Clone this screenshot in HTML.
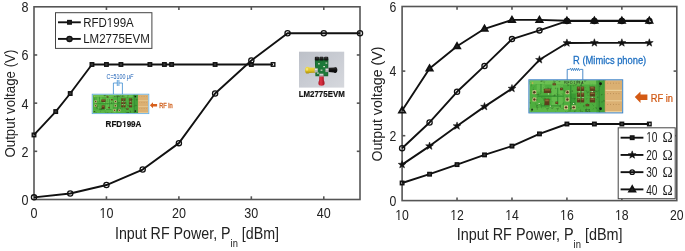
<!DOCTYPE html>
<html><head><meta charset="utf-8"><style>
html,body{margin:0;padding:0;background:#fff;width:685px;height:251px;overflow:hidden}
svg{display:block;will-change:transform}
text{font-family:"Liberation Sans",sans-serif;fill:#1a1a1a}
.ax rect,.ax line{stroke:#555;stroke-width:1.6}
.tk{font-size:15.5px;fill:#222}
.tk2{font-size:14.6px;fill:#222}
.xl{font-size:15.4px;fill:#222}
.xl2{font-size:16.2px;fill:#222}
.sub{font-size:10.6px}
.yl{font-size:15.3px;fill:#222}
.yl2{font-size:15.5px;fill:#222}
.ln{fill:none;stroke:#111;stroke-width:1.9;stroke-linejoin:round}
.msq{fill:none;stroke:#111;stroke-width:1.4}
.mci{fill:none;stroke:#111;stroke-width:1.3}
.mtr{fill:none;stroke:#111;stroke-width:1.8}
.mst{fill:#111;stroke:#111;stroke-width:0.5}
.lg{fill:#fff;stroke:#444;stroke-width:1}
.lgt{font-size:13.1px;fill:#1a1a1a}
.lgt2{font-size:13.9px;fill:#1a1a1a}
.cap{font-size:7.2px;fill:#1b5fb6}
.rfs{font-size:7.1px;fill:#d0601c;stroke:#d0601c;stroke-width:0.3}
.bl{font-size:9.5px;font-weight:bold;fill:#111;stroke:#111;stroke-width:0.2}
.bl2{font-size:9.4px;font-weight:bold;fill:#111;stroke:#111;stroke-width:0.2}
.rlab{font-size:11px;fill:#1f70c2;stroke:#1f70c2;stroke-width:0.3}
.rfr{font-size:11px;fill:#d05812;stroke:#d05812;stroke-width:0.25}
.om{font-family:"Liberation Serif",serif;font-size:13.8px;fill:#1a1a1a}
</style></head><body>
<svg width="685" height="251" viewBox="0 0 685 251">
<defs><clipPath id="f1"><path clip-rule="evenodd" d="M79.46,178 H133.43 V238 H79.46 Z M99.42,216.72 h3.15 v3.28 h-3.15 Z M103.78,216.72 h3.1 v3.28 h-3.1 Z"/></clipPath><clipPath id="f2"><path clip-rule="evenodd" d="M63.2,-13.3 H153.53 V46.7 H63.2 Z M106.63,25.6 h2.96 v3.1 h-2.96 Z M110.7,25.6 h2.92 v3.1 h-2.92 Z"/></clipPath><clipPath id="f3"><path clip-rule="evenodd" d="M375.28,180 H428.92 V240 H375.28 Z M395.21,218.79 h3.1 v3.21 h-3.1 Z M399.5,218.79 h3.05 v3.21 h-3.05 Z"/></clipPath><clipPath id="f4"><path clip-rule="evenodd" d="M430.22,180 H483.86 V240 H430.22 Z M450.15,218.79 h3.1 v3.21 h-3.1 Z M454.44,218.79 h3.05 v3.21 h-3.05 Z"/></clipPath><clipPath id="f5"><path clip-rule="evenodd" d="M485.16,180 H538.8 V240 H485.16 Z M505.09,218.79 h3.1 v3.21 h-3.1 Z M509.38,218.79 h3.05 v3.21 h-3.05 Z"/></clipPath><clipPath id="f6"><path clip-rule="evenodd" d="M540.1,180 H593.74 V240 H540.1 Z M560.03,218.79 h3.1 v3.21 h-3.1 Z M564.32,218.79 h3.05 v3.21 h-3.05 Z"/></clipPath><clipPath id="f7"><path clip-rule="evenodd" d="M595.04,180 H648.68 V240 H595.04 Z M614.97,218.79 h3.1 v3.21 h-3.1 Z M619.26,218.79 h3.05 v3.21 h-3.05 Z"/></clipPath><clipPath id="f8"><path clip-rule="evenodd" d="M626.2,102.2 H677.49 V162.2 H626.2 Z M645.97,141.04 h2.73 v3.16 h-2.73 Z M649.7,141.04 h2.7 v3.16 h-2.7 Z"/></clipPath><clipPath id="f9"><path clip-rule="evenodd" d="M85.6,86.6 H161.5 V146.6 H85.6 Z M121.7,125.51 h2.33 v3.09 h-2.33 Z M125.24,125.51 h2.27 v3.09 h-2.27 Z"/></clipPath></defs>
<g class="ax">
<rect x="34" y="6.8" width="326" height="192.7" fill="none"/>
<line x1="106.44" y1="199.5" x2="106.44" y2="196.3"/>
<line x1="106.44" y1="6.8" x2="106.44" y2="10"/>
<line x1="178.89" y1="199.5" x2="178.89" y2="196.3"/>
<line x1="178.89" y1="6.8" x2="178.89" y2="10"/>
<line x1="251.33" y1="199.5" x2="251.33" y2="196.3"/>
<line x1="251.33" y1="6.8" x2="251.33" y2="10"/>
<line x1="323.78" y1="199.5" x2="323.78" y2="196.3"/>
<line x1="323.78" y1="6.8" x2="323.78" y2="10"/>
<line x1="34" y1="151.32" x2="37.2" y2="151.32"/>
<line x1="360" y1="151.32" x2="356.8" y2="151.32"/>
<line x1="34" y1="103.15" x2="37.2" y2="103.15"/>
<line x1="360" y1="103.15" x2="356.8" y2="103.15"/>
<line x1="34" y1="54.98" x2="37.2" y2="54.98"/>
<line x1="360" y1="54.98" x2="356.8" y2="54.98"/>
</g>
<text class="tk" transform="translate(28.5,205) scale(0.81,1)" text-anchor="end">0</text>
<text class="tk" transform="translate(28.5,156.82) scale(0.81,1)" text-anchor="end">2</text>
<text class="tk" transform="translate(28.5,108.65) scale(0.81,1)" text-anchor="end">4</text>
<text class="tk" transform="translate(28.5,60.48) scale(0.81,1)" text-anchor="end">6</text>
<text class="tk" transform="translate(28.5,12.3) scale(0.81,1)" text-anchor="end">8</text>
<text class="tk" transform="translate(34,218) scale(0.81,1)" text-anchor="middle">0</text>
<g clip-path="url(#f1)"><text class="tk" transform="translate(106.44,218) scale(0.81,1)" text-anchor="middle">10</text></g>
<text class="tk" transform="translate(178.89,218) scale(0.81,1)" text-anchor="middle">20</text>
<text class="tk" transform="translate(251.33,218) scale(0.81,1)" text-anchor="middle">30</text>
<text class="tk" transform="translate(323.78,218) scale(0.81,1)" text-anchor="middle">40</text>
<text class="xl2" transform="translate(197,238.7) scale(0.88,1)" text-anchor="middle">Input RF Power, P<tspan class="sub" dy="8">in</tspan><tspan dy="-8"> [dBm]</tspan></text>
<text class="yl" transform="translate(14.8,103.6) rotate(-90) scale(0.87,1)" text-anchor="middle">Output voltage (V)</text>
<polyline class="ln" points="34,134.95 55.73,111.58 70.22,93.52 91.96,64.49 106.44,64.49 120.93,64.49 149.91,64.49 164.4,64.49 171.64,64.49 215.11,64.49 251.33,64.49 273.07,64.49"/>
<polyline class="ln" points="34,197.33 70.22,193.48 106.44,185.05 142.67,169.51 178.89,143.14 215.11,93.52 251.33,60.52 287.56,33.3 323.78,33.3 360,33.3"/>
<rect x="32.25" y="133.2" width="3.5" height="3.5" class="msq"/>
<rect x="53.98" y="109.83" width="3.5" height="3.5" class="msq" style="fill:#3a3a3a"/>
<rect x="68.47" y="91.77" width="3.5" height="3.5" class="msq" style="fill:#3a3a3a"/>
<rect x="90.21" y="62.74" width="3.5" height="3.5" class="msq" style="fill:#3a3a3a"/>
<rect x="104.69" y="62.74" width="3.5" height="3.5" class="msq" style="fill:#3a3a3a"/>
<rect x="119.18" y="62.74" width="3.5" height="3.5" class="msq" style="fill:#3a3a3a"/>
<rect x="148.16" y="62.74" width="3.5" height="3.5" class="msq" style="fill:#3a3a3a"/>
<rect x="162.65" y="62.74" width="3.5" height="3.5" class="msq" style="fill:#3a3a3a"/>
<rect x="169.89" y="62.74" width="3.5" height="3.5" class="msq" style="fill:#3a3a3a"/>
<rect x="213.36" y="62.74" width="3.5" height="3.5" class="msq" style="fill:#3a3a3a"/>
<rect x="249.58" y="62.74" width="3.5" height="3.5" class="msq" style="fill:#3a3a3a"/>
<rect x="271.32" y="62.74" width="3.5" height="3.5" class="msq"/>
<circle cx="34" cy="197.33" r="2.6" class="mci"/>
<circle cx="70.22" cy="193.48" r="2.6" class="mci"/>
<circle cx="106.44" cy="185.05" r="2.6" class="mci"/>
<circle cx="142.67" cy="169.51" r="2.6" class="mci"/>
<circle cx="178.89" cy="143.14" r="2.6" class="mci"/>
<circle cx="215.11" cy="93.52" r="2.6" class="mci"/>
<circle cx="251.33" cy="60.52" r="2.6" class="mci"/>
<circle cx="287.56" cy="33.3" r="2.6" class="mci"/>
<circle cx="323.78" cy="33.3" r="2.6" class="mci"/>
<circle cx="360" cy="33.3" r="2.6" class="mci"/>
<rect class="lg" x="55.5" y="12.7" width="96.4" height="35.7"/>
<line class="ln" x1="58" y1="22.3" x2="80.8" y2="22.3"/>
<rect x="67.75" y="20.55" width="3.5" height="3.5" class="msq" style="fill:#222"/>
<line class="ln" x1="58" y1="38.9" x2="80.8" y2="38.9"/>
<circle cx="69.5" cy="38.9" r="2.6" class="mci" style="fill:#333"/>
<g clip-path="url(#f2)"><text class="lgt" transform="translate(83.2,26.7) scale(0.88,1)">RFD199A</text></g>
<text class="lgt" transform="translate(83.2,43.2) scale(0.88,1)">LM2775EVM</text>
<g class="ax">
<rect x="402.1" y="6.5" width="274.7" height="194.1" fill="none"/>
<line x1="457.04" y1="200.6" x2="457.04" y2="197.4"/>
<line x1="457.04" y1="6.5" x2="457.04" y2="9.7"/>
<line x1="511.98" y1="200.6" x2="511.98" y2="197.4"/>
<line x1="511.98" y1="6.5" x2="511.98" y2="9.7"/>
<line x1="566.92" y1="200.6" x2="566.92" y2="197.4"/>
<line x1="566.92" y1="6.5" x2="566.92" y2="9.7"/>
<line x1="621.86" y1="200.6" x2="621.86" y2="197.4"/>
<line x1="621.86" y1="6.5" x2="621.86" y2="9.7"/>
<line x1="402.1" y1="135.7" x2="405.3" y2="135.7"/>
<line x1="676.8" y1="135.7" x2="673.6" y2="135.7"/>
<line x1="402.1" y1="71.1" x2="405.3" y2="71.1"/>
<line x1="676.8" y1="71.1" x2="673.6" y2="71.1"/>
</g>
<text class="tk2" transform="translate(396.4,205.6) scale(0.84,1)" text-anchor="end">0</text>
<text class="tk2" transform="translate(396.4,141) scale(0.84,1)" text-anchor="end">2</text>
<text class="tk2" transform="translate(396.4,76.4) scale(0.84,1)" text-anchor="end">4</text>
<text class="tk2" transform="translate(396.4,11.8) scale(0.84,1)" text-anchor="end">6</text>
<g clip-path="url(#f3)"><text class="tk2" transform="translate(402.1,220) scale(0.84,1)" text-anchor="middle">10</text></g>
<g clip-path="url(#f4)"><text class="tk2" transform="translate(457.04,220) scale(0.84,1)" text-anchor="middle">12</text></g>
<g clip-path="url(#f5)"><text class="tk2" transform="translate(511.98,220) scale(0.84,1)" text-anchor="middle">14</text></g>
<g clip-path="url(#f6)"><text class="tk2" transform="translate(566.92,220) scale(0.84,1)" text-anchor="middle">16</text></g>
<g clip-path="url(#f7)"><text class="tk2" transform="translate(621.86,220) scale(0.84,1)" text-anchor="middle">18</text></g>
<text class="tk2" transform="translate(676.8,220) scale(0.84,1)" text-anchor="middle">20</text>
<text class="xl2" transform="translate(539.6,240.1) scale(0.89,1)" text-anchor="middle">Input RF Power, P<tspan class="sub" dy="8">in</tspan><tspan dy="-8"> [dBm]</tspan></text>
<text class="yl2" transform="translate(382.2,104.1) rotate(-90) scale(0.915,1)" text-anchor="middle">Output voltage (V)</text>
<polyline class="ln" points="402.1,182.99 429.57,174.2 457.04,164.61 484.51,154.89 511.98,146.1 539.45,133.89 566.92,124.01 594.39,124.01 621.86,124.01 649.33,124.01"/>
<polyline class="ln" points="402.1,164.61 429.57,146.1 457.04,126.01 484.51,106.63 511.98,88.54 539.45,59.8 566.92,43 594.39,42.84 621.86,42.84 649.33,42.84"/>
<polyline class="ln" points="402.1,148.3 429.57,122.46 457.04,91.77 484.51,65.93 511.98,39.12 539.45,30.4 566.92,21.04 594.39,21.04 621.86,21.04 649.33,21.04"/>
<polyline class="ln" points="402.1,110.51 429.57,68.52 457.04,46.23 484.51,28.79 511.98,19.9 539.45,19.9 566.92,20.71 594.39,20.71 621.86,20.71 649.33,20.71"/>
<rect x="400.35" y="181.24" width="3.5" height="3.5" class="msq"/>
<rect x="427.82" y="172.45" width="3.5" height="3.5" class="msq" style="fill:#3a3a3a"/>
<rect x="455.29" y="162.86" width="3.5" height="3.5" class="msq" style="fill:#3a3a3a"/>
<rect x="482.76" y="153.14" width="3.5" height="3.5" class="msq" style="fill:#3a3a3a"/>
<rect x="510.23" y="144.35" width="3.5" height="3.5" class="msq" style="fill:#3a3a3a"/>
<rect x="537.7" y="132.14" width="3.5" height="3.5" class="msq" style="fill:#3a3a3a"/>
<rect x="565.17" y="122.26" width="3.5" height="3.5" class="msq" style="fill:#3a3a3a"/>
<rect x="592.64" y="122.26" width="3.5" height="3.5" class="msq" style="fill:#3a3a3a"/>
<rect x="620.11" y="122.26" width="3.5" height="3.5" class="msq" style="fill:#3a3a3a"/>
<rect x="647.58" y="122.26" width="3.5" height="3.5" class="msq"/>
<polygon points="402.1,160.51 403.1,163.23 406,163.34 403.72,165.13 404.51,167.93 402.1,166.31 399.69,167.93 400.48,165.13 398.2,163.34 401.1,163.23" class="mst"/>
<polygon points="429.57,142 430.57,144.73 433.47,144.83 431.19,146.63 431.98,149.42 429.57,147.8 427.16,149.42 427.95,146.63 425.67,144.83 428.57,144.73" class="mst"/>
<polygon points="457.04,121.91 458.04,124.63 460.94,124.74 458.66,126.54 459.45,129.33 457.04,127.71 454.63,129.33 455.42,126.54 453.14,124.74 456.04,124.63" class="mst"/>
<polygon points="484.51,102.53 485.51,105.25 488.41,105.36 486.13,107.16 486.92,109.95 484.51,108.33 482.1,109.95 482.89,107.16 480.61,105.36 483.51,105.25" class="mst"/>
<polygon points="511.98,84.44 512.98,87.17 515.88,87.28 513.6,89.07 514.39,91.86 511.98,90.24 509.57,91.86 510.36,89.07 508.08,87.28 510.98,87.17" class="mst"/>
<polygon points="539.45,55.7 540.45,58.42 543.35,58.53 541.07,60.32 541.86,63.11 539.45,61.5 537.04,63.11 537.83,60.32 535.55,58.53 538.45,58.42" class="mst"/>
<polygon points="566.92,38.9 567.92,41.62 570.82,41.73 568.54,43.52 569.33,46.32 566.92,44.7 564.51,46.32 565.3,43.52 563.02,41.73 565.92,41.62" class="mst"/>
<polygon points="594.39,38.74 595.39,41.46 598.29,41.57 596.01,43.36 596.8,46.15 594.39,44.54 591.98,46.15 592.77,43.36 590.49,41.57 593.39,41.46" class="mst"/>
<polygon points="621.86,38.74 622.86,41.46 625.76,41.57 623.48,43.36 624.27,46.15 621.86,44.54 619.45,46.15 620.24,43.36 617.96,41.57 620.86,41.46" class="mst"/>
<polygon points="649.33,38.74 650.33,41.46 653.23,41.57 650.95,43.36 651.74,46.15 649.33,44.54 646.92,46.15 647.71,43.36 645.43,41.57 648.33,41.46" class="mst"/>
<circle cx="402.1" cy="148.3" r="2.6" class="mci"/>
<circle cx="429.57" cy="122.46" r="2.6" class="mci"/>
<circle cx="457.04" cy="91.77" r="2.6" class="mci"/>
<circle cx="484.51" cy="65.93" r="2.6" class="mci"/>
<circle cx="511.98" cy="39.12" r="2.6" class="mci"/>
<circle cx="539.45" cy="30.4" r="2.6" class="mci"/>
<circle cx="566.92" cy="21.04" r="2.6" class="mci"/>
<circle cx="594.39" cy="21.04" r="2.6" class="mci"/>
<circle cx="621.86" cy="21.04" r="2.6" class="mci"/>
<circle cx="649.33" cy="21.04" r="2.6" class="mci"/>
<polygon points="402.1,107.28 399,112.65 405.2,112.65" class="mtr"/>
<polygon points="429.57,65.29 426.47,70.66 432.67,70.66" class="mtr" style="fill:#222"/>
<polygon points="457.04,43.01 453.94,48.38 460.14,48.38" class="mtr" style="fill:#222"/>
<polygon points="484.51,25.57 481.41,30.93 487.61,30.93" class="mtr" style="fill:#222"/>
<polygon points="511.98,16.68 508.88,22.05 515.08,22.05" class="mtr" style="fill:#222"/>
<polygon points="539.45,16.68 536.35,22.05 542.55,22.05" class="mtr" style="fill:#222"/>
<polygon points="566.92,17.49 563.82,22.86 570.02,22.86" class="mtr" style="fill:#222"/>
<polygon points="594.39,17.49 591.29,22.86 597.49,22.86" class="mtr" style="fill:#222"/>
<polygon points="621.86,17.49 618.76,22.86 624.96,22.86" class="mtr" style="fill:#222"/>
<polygon points="649.33,17.49 646.23,22.86 652.43,22.86" class="mtr"/>
<circle cx="566.92" cy="20.87" r="2.9" fill="#111"/>
<circle cx="594.39" cy="20.87" r="2.9" fill="#111"/>
<circle cx="621.86" cy="20.87" r="2.9" fill="#111"/>
<rect class="lg" x="618.2" y="127.8" width="57" height="70.9"/>
<line class="ln" x1="620.6" y1="137.7" x2="643.4" y2="137.7"/>
<rect x="630.45" y="135.95" width="3.5" height="3.5" class="msq" style="fill:#222"/>
<g clip-path="url(#f8)"><text class="lgt2" transform="translate(646.2,142.2) scale(0.73,1)">10</text></g>
<text class="om" transform="translate(662.4,142.2) scale(1,1)">&#937;</text>
<line class="ln" x1="620.6" y1="154.93" x2="643.4" y2="154.93"/>
<polygon points="632.2,150.83 633.2,153.55 636.1,153.66 633.82,155.46 634.61,158.25 632.2,156.63 629.79,158.25 630.58,155.46 628.3,153.66 631.2,153.55" class="mst"/>
<text class="lgt2" transform="translate(646.2,159.7) scale(0.73,1)">20</text>
<text class="om" transform="translate(662.4,159.7) scale(1,1)">&#937;</text>
<line class="ln" x1="620.6" y1="172.16" x2="643.4" y2="172.16"/>
<circle cx="632.2" cy="172.16" r="2.2" class="mci"/>
<text class="lgt2" transform="translate(646.2,177.2) scale(0.73,1)">30</text>
<text class="om" transform="translate(662.4,177.2) scale(1,1)">&#937;</text>
<line class="ln" x1="620.6" y1="189.39" x2="643.4" y2="189.39"/>
<polygon points="632.2,186.17 629.1,191.54 635.3,191.54" class="mtr" style="fill:#222"/>
<text class="lgt2" transform="translate(646.2,194.7) scale(0.73,1)">40</text>
<text class="om" transform="translate(662.4,194.7) scale(1,1)">&#937;</text>
<defs><symbol id="pcb" viewBox="0 0 100 34" preserveAspectRatio="none">
<rect x="0" y="0" width="82" height="34" fill="#4eae3e"/>
<rect x="0" y="0" width="82" height="4.5" fill="#6cc052"/>
<rect x="0" y="29" width="42" height="5" fill="#5cb848"/>
<rect x="24" y="5" width="12" height="24" fill="#62bc4c"/>
<rect x="8" y="5" width="9" height="7" fill="#62bc4c"/>
<rect x="44" y="14" width="6" height="12" fill="#3a9a34"/>
<rect x="9" y="16.2" width="28" height="1.2" fill="#2f8a2e"/>
<rect x="12" y="26.5" width="22" height="1.1" fill="#2f8a2e"/>
<rect x="44" y="5" width="1.2" height="25" fill="#2f8a2e"/>
<rect x="12" y="4" width="1.1" height="9" fill="#2f8a2e"/>
<rect x="30" y="8" width="1.1" height="18" fill="#348e30"/>
<rect x="72" y="0" width="10" height="34" fill="#44a03a"/>
<rect x="74.6" y="0" width="1.2" height="34" fill="#348c30"/>
<circle cx="76.6" cy="3.7" r="1.5" fill="#101510"/>
<circle cx="76.6" cy="30.1" r="1.5" fill="#101510"/>
<circle cx="3" cy="31" r="1.1" fill="#203a18"/>
<circle cx="3.5" cy="3" r="0.9" fill="#c8b050"/>
<rect x="15.6" y="8.9" width="7.6" height="4.6" fill="#5e3e1c"/>
<rect x="16.4" y="9.5" width="6.0" height="1.38" fill="#a27a42" opacity="0.75"/>
<rect x="16.3" y="19.6" width="5.4" height="6.7" fill="#5e3e1c"/>
<rect x="17.1" y="20.200000000000003" width="3.8000000000000003" height="2.01" fill="#a27a42" opacity="0.75"/>
<rect x="25" y="3.2" width="3.6" height="2.2" fill="#5e3e1c"/>
<rect x="25.8" y="3.8000000000000003" width="2.0" height="0.66" fill="#a27a42" opacity="0.75"/>
<rect x="33" y="8" width="3" height="2.6" fill="#5e3e1c"/>
<rect x="33.8" y="8.6" width="1.4" height="0.78" fill="#a27a42" opacity="0.75"/>
<rect x="28" y="22.5" width="3" height="2.5" fill="#5e3e1c"/>
<rect x="28.8" y="23.1" width="1.4" height="0.75" fill="#a27a42" opacity="0.75"/>
<rect x="51.2" y="6.7" width="3.6" height="4.8" fill="#5e3e1c"/>
<rect x="52.0" y="7.3" width="2.0" height="1.44" fill="#a27a42" opacity="0.75"/>
<rect x="55.4" y="6.7" width="3.6" height="4.8" fill="#5e3e1c"/>
<rect x="56.199999999999996" y="7.3" width="2.0" height="1.44" fill="#a27a42" opacity="0.75"/>
<rect x="51.2" y="13" width="3.6" height="4.5" fill="#5e3e1c"/>
<rect x="52.0" y="13.6" width="2.0" height="1.3499999999999999" fill="#a27a42" opacity="0.75"/>
<rect x="55.4" y="13" width="3.6" height="4.5" fill="#5e3e1c"/>
<rect x="56.199999999999996" y="13.6" width="2.0" height="1.3499999999999999" fill="#a27a42" opacity="0.75"/>
<rect x="51.2" y="19" width="3.6" height="4.4" fill="#5e3e1c"/>
<rect x="52.0" y="19.6" width="2.0" height="1.32" fill="#a27a42" opacity="0.75"/>
<rect x="55.4" y="19" width="3.6" height="4.4" fill="#5e3e1c"/>
<rect x="56.199999999999996" y="19.6" width="2.0" height="1.32" fill="#a27a42" opacity="0.75"/>
<rect x="65" y="6.7" width="5.8" height="4.6" fill="#5e3e1c"/>
<rect x="65.8" y="7.3" width="4.199999999999999" height="1.38" fill="#a27a42" opacity="0.75"/>
<rect x="65" y="12.6" width="5.8" height="4.6" fill="#5e3e1c"/>
<rect x="65.8" y="13.2" width="4.199999999999999" height="1.38" fill="#a27a42" opacity="0.75"/>
<rect x="65" y="18.6" width="5.8" height="4.8" fill="#5e3e1c"/>
<rect x="65.8" y="19.200000000000003" width="4.199999999999999" height="1.44" fill="#a27a42" opacity="0.75"/>
<rect x="60.5" y="25" width="4" height="2.5" fill="#5e3e1c"/>
<rect x="61.3" y="25.6" width="2.4" height="0.75" fill="#a27a42" opacity="0.75"/>
<rect x="53" y="11.8" width="1.3" height="1" fill="#e8e6c8"/>
<rect x="57" y="11.8" width="1.3" height="1" fill="#e8e6c8"/>
<rect x="53" y="17.9" width="1.3" height="1" fill="#e8e6c8"/>
<rect x="57" y="17.9" width="1.3" height="1" fill="#e8e6c8"/>
<rect x="67" y="11.5" width="1.3" height="1" fill="#e8e6c8"/>
<rect x="67" y="17.5" width="1.3" height="1" fill="#e8e6c8"/>
<rect x="20" y="14" width="1.3" height="1" fill="#e8e6c8"/>
<rect x="22" y="26.8" width="1.3" height="1" fill="#e8e6c8"/>
<rect x="47" y="24" width="1.3" height="1" fill="#e8e6c8"/>
<rect x="10" y="24" width="1.3" height="1" fill="#e8e6c8"/>
<rect x="3.45" y="10.649999999999999" width="4.1" height="4.1" fill="#dccb92"/>
<circle cx="5.5" cy="12.7" r="1.3" fill="#54391c"/>
<rect x="3.45" y="18.25" width="4.1" height="4.1" fill="#dccb92"/>
<circle cx="5.5" cy="20.3" r="1.3" fill="#54391c"/>
<rect x="38.95" y="10.649999999999999" width="4.1" height="4.1" fill="#dccb92"/>
<circle cx="41" cy="12.7" r="1.3" fill="#54391c"/>
<rect x="38.95" y="18.25" width="4.1" height="4.1" fill="#dccb92"/>
<circle cx="41" cy="20.3" r="1.3" fill="#54391c"/>
<rect x="37.45" y="26.55" width="4.1" height="4.1" fill="#dccb92"/>
<circle cx="39.5" cy="28.6" r="1.3" fill="#54391c"/>
<rect x="45.75" y="26.55" width="4.1" height="4.1" fill="#dccb92"/>
<circle cx="47.8" cy="28.6" r="1.3" fill="#54391c"/>
<text x="48.4" y="3.5" font-size="3.4" fill="#eef4e6" text-anchor="middle" font-family="Liberation Sans, sans-serif" letter-spacing="0.9">RFD199A</text>
<text x="63" y="33" font-size="3" fill="#dfeedd" text-anchor="middle" font-family="Liberation Sans, sans-serif">R21</text>
</symbol>
<symbol id="pads" viewBox="0 0 100 34" preserveAspectRatio="none">
<rect x="81.2" y="0" width="18.8" height="34" fill="#d2a462"/>
<rect x="82" y="0.5" width="17.6" height="10.4" fill="#dbb072"/>
<rect x="82" y="10.1" width="17.6" height="1.2" fill="#ecd09a"/>
<rect x="84" y="2.7" width="0.8" height="0.8" fill="#a87a44"/>
<rect x="87" y="2.7" width="0.8" height="0.8" fill="#a87a44"/>
<rect x="90" y="2.7" width="0.8" height="0.8" fill="#a87a44"/>
<rect x="93" y="2.7" width="0.8" height="0.8" fill="#a87a44"/>
<rect x="96" y="2.7" width="0.8" height="0.8" fill="#a87a44"/>
<rect x="82" y="11.6" width="17.6" height="10.4" fill="#dbb072"/>
<rect x="82" y="21.2" width="17.6" height="1.2" fill="#ecd09a"/>
<rect x="84" y="13.8" width="0.8" height="0.8" fill="#a87a44"/>
<rect x="87" y="13.8" width="0.8" height="0.8" fill="#a87a44"/>
<rect x="90" y="13.8" width="0.8" height="0.8" fill="#a87a44"/>
<rect x="93" y="13.8" width="0.8" height="0.8" fill="#a87a44"/>
<rect x="96" y="13.8" width="0.8" height="0.8" fill="#a87a44"/>
<rect x="82" y="22.8" width="17.6" height="10.4" fill="#dbb072"/>
<rect x="82" y="32.4" width="17.6" height="1.2" fill="#ecd09a"/>
<rect x="84" y="25.0" width="0.8" height="0.8" fill="#a87a44"/>
<rect x="87" y="25.0" width="0.8" height="0.8" fill="#a87a44"/>
<rect x="90" y="25.0" width="0.8" height="0.8" fill="#a87a44"/>
<rect x="93" y="25.0" width="0.8" height="0.8" fill="#a87a44"/>
<rect x="96" y="25.0" width="0.8" height="0.8" fill="#a87a44"/>
</symbol><filter id="nz" x="0" y="0" width="1" height="1" color-interpolation-filters="sRGB">
<feTurbulence type="fractalNoise" baseFrequency="0.3" numOctaves="2" seed="7" result="t"/>
<feColorMatrix in="t" type="matrix" values="0 0 0 0 0.12  0 0 0 0 0.25  0 0 0 0 0.08  0 0 0 -1.8 0.75" result="d"/>
<feComposite in="d" in2="SourceGraphic" operator="in" result="d2"/>
<feMerge result="m"><feMergeNode in="SourceGraphic"/><feMergeNode in="d2"/></feMerge>
<feGaussianBlur in="m" stdDeviation="0.35"/>
</filter>
<filter id="bl" x="-0.05" y="-0.05" width="1.1" height="1.1"><feGaussianBlur stdDeviation="0.3"/></filter></defs>
<use href="#pcb" x="92.6" y="94.6" width="55.8" height="18.6" filter="url(#nz)"/>
<use href="#pads" x="92.6" y="94.6" width="55.8" height="18.6" filter="url(#bl)"/>
<rect x="92.2" y="94.2" width="56.6" height="19.4" fill="none" stroke="#6ab0e0" stroke-width="0.9"/>
<path d="M113.4,94.2 V83 H117.3 M118.9,83 H122.4 V94.2" fill="none" stroke="#3a8ad0" stroke-width="0.8"/>
<path d="M117.3,80 V86 M118.9,80 V86" fill="none" stroke="#3a8ad0" stroke-width="0.8"/>
<text class="cap" transform="translate(106.5,79.3) scale(0.75,1)">C=5100 <tspan font-style="italic">&#956;F</tspan></text>
<path d="M149.9,105.2 L153,102.3 L153,103.9 L157.1,103.9 L157.1,106.6 L153,106.6 L153,108.2 Z" fill="#d8601c"/>
<text class="rfs" transform="translate(159.2,107.9) scale(0.8,1)">RF in</text>
<g clip-path="url(#f9)"><text class="bl" transform="translate(105.6,126.6) scale(0.85,1)">RFD199A</text></g>
<g filter="url(#bl)"><defs><linearGradient id="lmbg" x1="0" y1="0" x2="1" y2="1"><stop offset="0" stop-color="#bcc0c8"/><stop offset="0.5" stop-color="#c9ccd3"/><stop offset="1" stop-color="#d6d8dd"/></linearGradient><linearGradient id="yel" x1="0" y1="0" x2="0" y2="1"><stop offset="0" stop-color="#f0dc50"/><stop offset="0.55" stop-color="#e0c424"/><stop offset="1" stop-color="#a88a10"/></linearGradient><linearGradient id="red" x1="0" y1="0" x2="1" y2="0"><stop offset="0" stop-color="#a81424"/><stop offset="0.4" stop-color="#e03444"/><stop offset="1" stop-color="#9a1020"/></linearGradient><linearGradient id="blk" x1="0" y1="0" x2="0" y2="1"><stop offset="0" stop-color="#3a3a3a"/><stop offset="0.4" stop-color="#141414"/><stop offset="1" stop-color="#0a0a0a"/></linearGradient></defs>
<rect x="299" y="51.7" width="45.2" height="35.9" fill="url(#lmbg)"/>
<path d="M314.8,58.5 L328.4,58.5 L328.2,76.2 L315.4,76.2 Z" fill="#1a6630"/>
<rect x="316" y="61.5" width="11" height="13.5" fill="#22803a" opacity="0.7"/>
<rect x="314.9" y="56.8" width="4" height="3.8" rx="0.8" fill="#121212"/>
<rect x="315.7" y="57.4" width="2.4" height="1" fill="#4a4a4a"/>
<rect x="319.5" y="56.8" width="4" height="3.8" rx="0.8" fill="#121212"/>
<rect x="320.3" y="57.4" width="2.4" height="1" fill="#4a4a4a"/>
<rect x="324.2" y="56.8" width="4" height="3.8" rx="0.8" fill="#121212"/>
<rect x="325.0" y="57.4" width="2.4" height="1" fill="#4a4a4a"/>
<rect x="318" y="63.2" width="1.8" height="1.2" fill="#d0d4c4"/>
<rect x="323.2" y="66" width="1.8" height="1.2" fill="#d0d4c4"/>
<rect x="320.6" y="69.6" width="1.8" height="1.2" fill="#d0d4c4"/>
<rect x="317" y="72.5" width="1.8" height="1.2" fill="#d0d4c4"/>
<rect x="325.5" y="62.5" width="1.8" height="1.2" fill="#d0d4c4"/>
<path d="M315.6,67.8 L309.5,67.6 Q308.6,66.8 307.2,66.8 Q305.1,66.9 305.1,70.2 Q305.1,73.5 307.2,73.6 Q308.6,73.6 309.5,72.9 L315.6,72.7 Z" fill="url(#yel)"/>
<ellipse cx="307" cy="69.2" rx="1.1" ry="1.5" fill="#fbf0a0" opacity="0.6"/>
<rect x="314.6" y="68.2" width="3.2" height="4.2" fill="#b4b4b4"/>
<rect x="315" y="69.1" width="2.4" height="1" fill="#e8e8e8"/>
<path d="M328.4,67.8 L333.8,67.4 Q334.8,66.9 335.6,66.9 Q337.4,67 337.4,69.9 Q337.4,72.8 335.6,72.9 Q334.8,72.9 333.8,72.4 L328.4,72 Z" fill="url(#blk)"/>
<rect x="325.4" y="68.3" width="3.2" height="3.8" fill="#a8a8a8"/>
<rect x="325.8" y="69.1" width="2.4" height="1" fill="#dcdcdc"/>
<path d="M319.3,76.2 L323.7,76.2 L323.9,80.5 Q324.6,81.4 324.6,83.6 Q324.5,85.8 321.5,85.8 Q318.5,85.8 318.4,83.6 Q318.4,81.4 319.1,80.5 Z" fill="url(#red)"/>
<rect x="319.2" y="73.6" width="4.4" height="2.8" fill="#a4a4a4"/>
<rect x="319.8" y="74.2" width="3.2" height="0.9" fill="#dedede"/></g>
<text class="bl2" transform="translate(298.7,96.8) scale(0.84,1)">LM2775EVM</text>
<use href="#pcb" x="529.3" y="80.2" width="93" height="32.3" filter="url(#nz)"/>
<use href="#pads" x="529.3" y="80.2" width="93" height="32.3" filter="url(#bl)"/>
<rect x="528.9" y="79.8" width="93.8" height="33.1" fill="none" stroke="#3a80c4" stroke-width="1"/>
<path d="M567.2,79.8 V69.4 H569.6 L570.5,68.2 L571.5,70.6 L572.5,68.2 L573.5,70.6 L574.5,68.2 L575.5,70.6 L576.5,68.2 L577.5,70.6 L578.5,68.2 L579.5,70.6 L580.3,69.4 H582.8 V79.8" fill="none" stroke="#3a80c4" stroke-width="0.9"/>
<text class="rlab" transform="translate(573.1,63.8) scale(0.85,1)">R (Mimics phone)</text>
<path d="M634.8,97 L640.5,91.5 L640.5,94.5 L647.4,94.5 L647.4,100 L640.5,100 L640.5,103 Z" fill="#d45a14"/>
<text class="rfr" transform="translate(650.7,102) scale(0.85,1)">RF in</text>
</svg>
</body></html>
